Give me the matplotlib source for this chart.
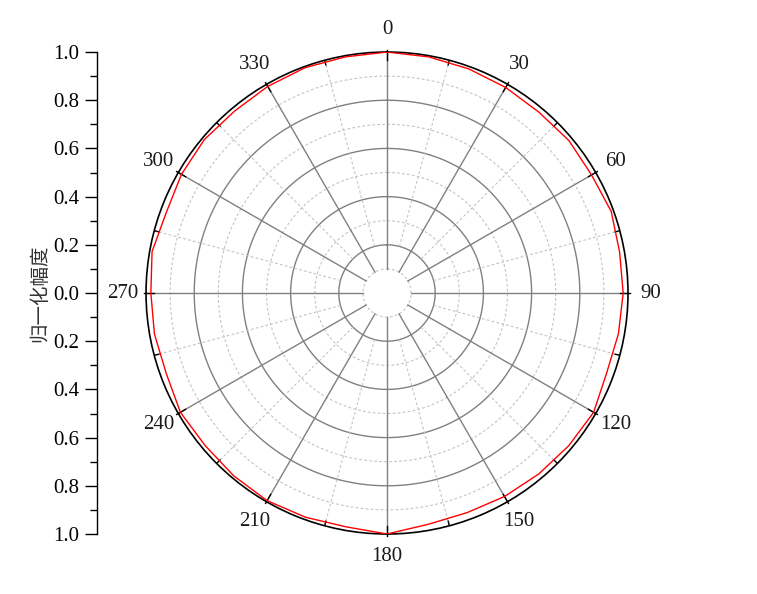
import numpy as np
import matplotlib.pyplot as plt

plt.rcParams['font.family'] = ['Liberation Serif', 'Noto Sans CJK SC']

# data: normalized amplitude vs angle (deg)
angles_deg = np.arange(0, 360, 10)
amplitude = [1.00, 0.995, 0.99, 0.985, 0.98, 0.985, 0.98, 0.99, 0.98,
             0.98, 0.975, 0.97, 0.99, 0.985, 0.98, 0.975, 0.97, 0.975,
             1.00, 0.985, 0.99, 0.995, 0.99, 0.985, 0.99, 0.975, 0.98,
             0.98, 0.99, 0.975, 0.985, 0.99, 0.985, 0.99, 0.995, 0.995]
angle_labels = ['0', '30', '60', '90', '120', '150', '180', '210', '240', '270', '300', '330']
r_ticks = [1.0, 0.8, 0.6, 0.4, 0.2, 0.0, 0.2, 0.4, 0.6, 0.8, 1.0]

fig = plt.figure(figsize=(7.57, 5.94), dpi=100)
ax = fig.add_axes([0.1929, 0.101, 0.6367, 0.8114], projection='polar')
ax.set_theta_zero_location('N')
ax.set_theta_direction(-1)
ax.set_ylim(0, 1)
ax.grid(False)
ax.set_xticks([])
ax.set_yticks([])
ax.spines['polar'].set_color('black')
ax.spines['polar'].set_linewidth(1.2)

# grid circles
full = np.linspace(0, 2 * np.pi, 361)
for r in [0.2, 0.4, 0.6, 0.8]:
    ax.plot(full, np.full_like(full, r), color='#808080', lw=1.0, zorder=1)
for r in [0.1, 0.3, 0.5, 0.7, 0.9]:
    ax.plot(full, np.full_like(full, r), color='#c4c4c4', lw=0.8, ls=(0, (2.5, 2)), zorder=1)

# spokes and ticks on outer ring
for a in range(0, 360, 30):
    t = np.deg2rad(a)
    ax.plot([t, t], [0.1, 1.0], color='#808080', lw=1.0, zorder=1)
    ax.plot([t, t], [0.965, 1.008], color='black', lw=1.0, zorder=3, clip_on=False)
for a in range(15, 360, 30):
    t = np.deg2rad(a)
    ax.plot([t, t], [0.2, 1.0], color='#c4c4c4', lw=0.8, ls=(0, (2.5, 2)), zorder=1)
    ax.plot([t, t], [0.98, 1.0], color='black', lw=1.0, zorder=3)

# angle labels
for lab in angle_labels:
    t = np.deg2rad(int(lab))
    ax.text(t, 1.095, lab, ha='center', va='center', fontsize=15,
            color='#1a1a1a', clip_on=False)

# data curve
th = np.deg2rad(np.append(angles_deg, angles_deg[0]))
rr = np.append(amplitude, amplitude[0])
ax.plot(th, rr, color='red', lw=1.0, zorder=4)

# left radial scale
lax = fig.add_axes([97 / 757, 0.101, 0.001, 0.8114])
lax.set_ylim(-1, 1)
lax.set_xticks([])
for s in ['right', 'top', 'bottom']:
    lax.spines[s].set_visible(False)
lax.spines['left'].set_linewidth(1.0)
lax.set_yticks(np.linspace(1, -1, 11))
lax.set_yticklabels(['%.1f' % v for v in r_ticks], fontsize=15)
lax.set_yticks(np.arange(-0.9, 1.0, 0.2), minor=True)
lax.tick_params(axis='y', which='major', length=9, width=1, direction='out', pad=4)
lax.tick_params(axis='y', which='minor', length=5, width=1, direction='out')
lax.set_ylabel('归一化幅度', family=['Noto Sans CJK SC', 'DejaVu Sans'],
               fontsize=14, color='#333333', labelpad=2)

fig.savefig('out.png', dpi=100)
